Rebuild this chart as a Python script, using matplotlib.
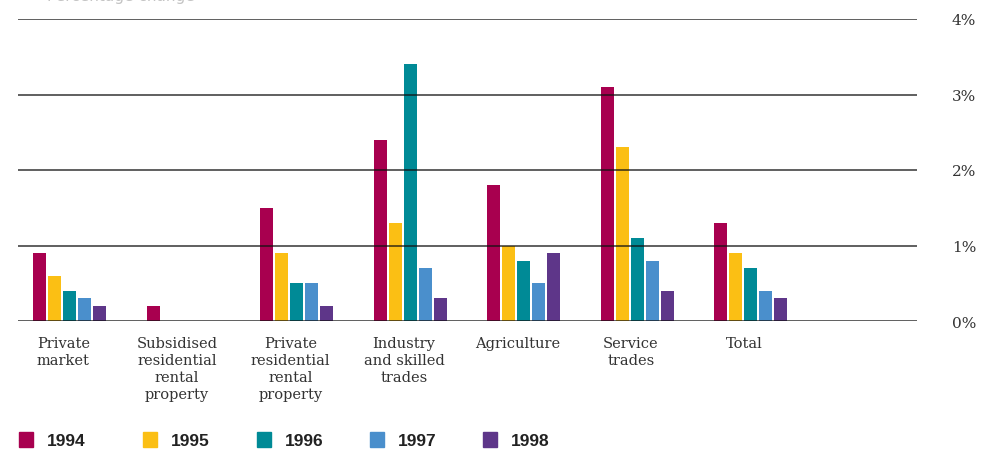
import matplotlib.pyplot as plt
import numpy as np

# Categories and yearly values (per cent)
categories = ['Private\nmarket', 'Subsidised\nresidential\nrental\nproperty',
              'Private\nresidential\nrental\nproperty', 'Industry\nand skilled\ntrades',
              'Agriculture', 'Service\ntrades', 'Total']
years = ['1994', '1995', '1996', '1997', '1998']
v1994 = [0.9, 0.2, 1.5, 2.4, 1.8, 3.1, 1.3]
v1995 = [0.6, 0.0, 0.9, 1.3, 1.0, 2.3, 0.9]
v1996 = [0.4, 0.0, 0.5, 3.4, 0.8, 1.1, 0.7]
v1997 = [0.3, 0.0, 0.5, 0.7, 0.5, 0.8, 0.4]
v1998 = [0.2, 0.0, 0.2, 0.3, 0.9, 0.4, 0.3]
yticks = [0, 1, 2, 3, 4]

colors = ['#A8004F', '#FBBF14', '#008A96', '#4A8FCC', '#5E3689']
series = [v1994, v1995, v1996, v1997, v1998]

fig = plt.figure(figsize=(9.95, 4.52), dpi=100)
ax = fig.add_axes([18 / 995, 130 / 452, 899 / 995, 302 / 452])

x = np.arange(len(categories))
width = 0.115
step = 0.132
shift = 0.057  # bar groups sit a little right of their labels
for i, (vals, c) in enumerate(zip(series, colors)):
    ax.bar(x + shift + (i - 2) * step, vals, width=width, color=c, zorder=2)

# horizontal rules drawn on top of the bars
for t in yticks:
    ax.axhline(t, color='#111111', lw=1.1, alpha=0.85, zorder=3)

ax.set_xlim(-0.40, 7.52)
ax.set_ylim(0, 4)
for s in ax.spines.values():
    s.set_visible(False)
ax.set_xticks(x)
ax.set_xticklabels(categories, family='DejaVu Serif', fontsize=10.5,
                   color='#333333', linespacing=1.25, va='top')
ax.tick_params(axis='x', length=0, pad=11)
ax.yaxis.tick_right()
ax.set_yticks(yticks)
ax.set_yticklabels([f'{t}%' for t in yticks], family='DejaVu Serif',
                   fontsize=11, color='#333333')
ax.tick_params(axis='y', length=0, pad=25)

# heading sitting mostly above the canvas
fig.text(47 / 995, 1.0 - 4 / 452, 'Percentage change', fontsize=11,
         color='#c4c4c4', va='bottom', ha='left')

# legend row
legend_x = [19, 143, 257, 370, 483]
for xp, yr, c in zip(legend_x, years, colors):
    x0 = xp / 995
    fig.patches.append(plt.Rectangle((x0, 4 / 452), 14 / 995, 15 / 452,
                                     transform=fig.transFigure, color=c))
    fig.text(x0 + 28 / 995, 3 / 452, yr, fontsize=12.5, fontweight='bold',
             color='#222222', family='Liberation Sans', va='bottom')

fig.savefig('out.png', dpi=100)
